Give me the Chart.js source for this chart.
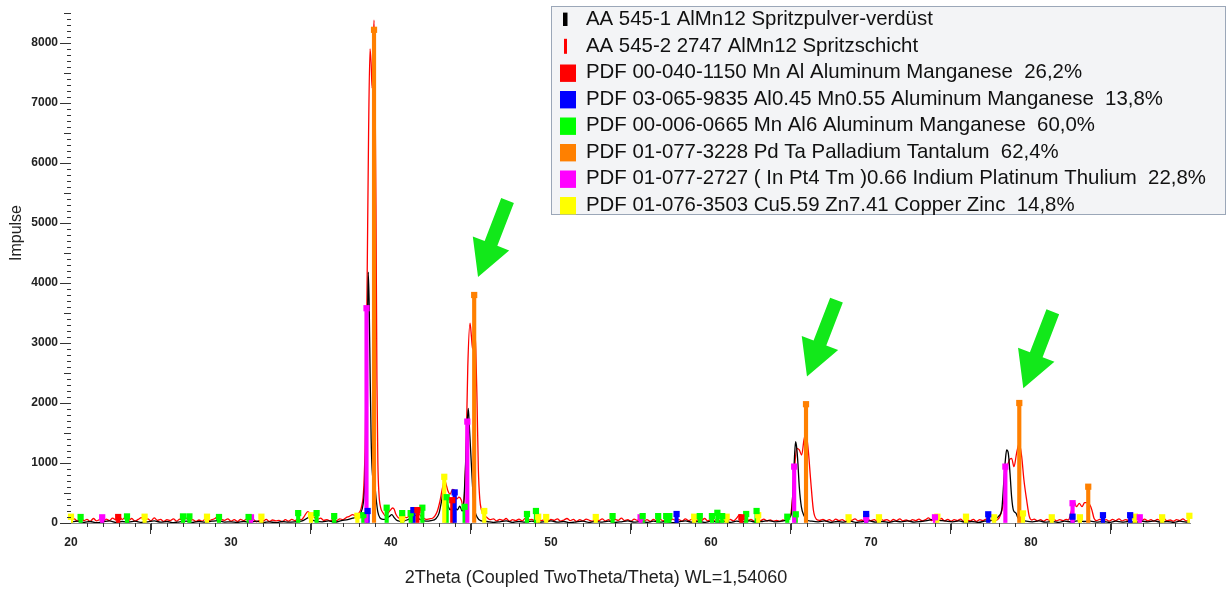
<!DOCTYPE html>
<html>
<head>
<meta charset="utf-8">
<script src="https://cdn.jsdelivr.net/npm/chart.js@4.4.1/dist/chart.umd.min.js"></script>
<style>
html,body{margin:0;padding:0;background:#fff;}
#wrap{width:1228px;height:595px;position:relative;}
</style>
</head>
<body>
<div id="wrap"><canvas id="c" width="1228" height="595"></canvas></div>
<script>
// ---------- legend / series names ----------
const scanNames = ['AA 545-1 AlMn12 Spritzpulver-verdüst', 'AA 545-2 2747 AlMn12 Spritzschicht'];
const scanColors = ['#000000', '#ff0000'];
const phaseNames = [
  'PDF 00-040-1150 Mn Al Aluminum Manganese  26,2%',
  'PDF 03-065-9835 Al0.45 Mn0.55 Aluminum Manganese  13,8%',
  'PDF 00-006-0665 Mn Al6 Aluminum Manganese  60,0%',
  'PDF 01-077-3228 Pd Ta Palladium Tantalum  62,4%',
  'PDF 01-077-2727 ( In Pt4 Tm )0.66 Indium Platinum Thulium  22,8%',
  'PDF 01-076-3503 Cu5.59 Zn7.41 Copper Zinc  14,8%'
];
const phaseColors = ['#ff0000', '#0000ff', '#00ff00', '#ff8000', '#ff00ff', '#ffff00'];

// ---------- axis ----------
const xTitle = '2Theta (Coupled TwoTheta/Theta) WL=1,54060';
const yTitle = 'Impulse';
const xMin = 20, xMax = 89.94;
const yMin = 0, yMax = 8550;
const xTickValues = [20, 30, 40, 50, 60, 70, 80];
const yTickValues = [0, 1000, 2000, 3000, 4000, 5000, 6000, 7000, 8000];

// ---------- scan 1 (black): [2theta, counts] ----------
const scan1 = [
[20.0,15],[20.4,30],[20.8,10],[21.2,25],[21.6,5],[22.0,20],[22.4,35],[22.8,10],[23.2,25],[23.6,15],
[24.0,30],[24.4,10],[24.8,20],[25.2,35],[25.6,15],[26.0,25],[26.4,5],[26.8,20],[27.2,30],[27.6,10],
[28.0,25],[28.4,15],[28.8,30],[29.2,40],[29.6,15],[30.0,20],[30.4,10],[30.8,25],[31.2,15],[31.6,30],
[32.0,10],[32.4,20],[32.8,5],[33.2,25],[33.6,15],[34.0,20],[34.4,30],[34.7,70],[34.85,95],[35.0,60],
[35.3,30],[35.7,20],[36.1,35],[36.5,15],[36.9,40],[37.3,55],[37.6,80],[37.9,110],[38.1,160],[38.25,300],
[38.35,600],[38.45,1600],[38.52,3000],[38.58,4180],[38.64,3600],[38.7,2400],[38.76,1400],[38.82,900],[38.9,700],[39.0,600],
[39.08,380],[39.18,180],[39.3,90],[39.5,60],[39.7,70],[39.9,110],[40.05,140],[40.2,90],[40.4,40],[40.7,30],
[41.0,50],[41.3,90],[41.5,130],[41.7,80],[41.9,50],[42.2,30],[42.5,40],[42.8,70],[43.0,160],[43.15,350],
[43.27,500],[43.4,420],[43.55,300],[43.7,220],[43.85,270],[44.0,250],[44.15,220],[44.3,280],[44.45,200],[44.55,350],
[44.65,900],[44.75,1600],[44.83,1910],[44.9,1600],[44.97,1250],[45.04,900],[45.14,440],[45.25,200],[45.4,90],[45.6,40],
[46.0,25],[46.4,10],[46.8,20],[47.2,35],[47.6,10],[48.0,25],[48.4,15],[48.8,30],[49.2,10],[49.6,20],
[50.0,35],[50.4,15],[50.8,25],[51.2,5],[51.6,20],[52.0,30],[52.4,10],[52.8,25],[53.2,15],[53.6,30],
[54.0,10],[54.4,20],[54.8,35],[55.2,15],[55.6,25],[56.0,10],[56.4,30],[56.8,15],[57.2,25],[57.6,5],
[58.0,20],[58.4,35],[58.8,15],[59.2,25],[59.6,10],[60.0,30],[60.4,15],[60.8,25],[61.2,10],[61.6,30],
[62.0,20],[62.4,35],[62.8,15],[63.2,25],[63.6,40],[64.0,20],[64.4,30],[64.7,50],[64.9,90],[65.04,165],
[65.15,717],[65.22,1100],[65.29,1355],[65.36,1250],[65.42,1050],[65.52,600],[65.65,270],[65.8,130],[66.0,50],[66.3,30],
[66.7,20],[67.1,35],[67.5,10],[67.9,25],[68.3,15],[68.7,30],[69.1,10],[69.5,25],[69.9,35],[70.3,15],
[70.7,25],[71.1,10],[71.5,30],[71.9,20],[72.3,35],[72.7,15],[73.1,25],[73.5,40],[73.9,60],[74.3,45],
[74.7,30],[75.1,20],[75.5,35],[75.9,15],[76.3,25],[76.7,10],[77.1,30],[77.5,40],[77.8,70],[78.0,120],
[78.17,215],[78.31,717],[78.4,1050],[78.48,1217],[78.58,1167],[78.69,828],[78.79,438],[78.9,215],[79.06,165],[79.2,80],
[79.4,50],[79.7,30],[80.1,20],[80.5,35],[80.9,15],[81.3,25],[81.7,10],[82.1,30],[82.5,20],[82.9,35],
[83.3,25],[83.7,30],[84.1,15],[84.5,25],[84.9,10],[85.3,30],[85.7,15],[86.1,25],[86.5,10],[86.9,30],
[87.3,20],[87.7,35],[88.1,15],[88.5,25],[88.9,10],[89.3,30],[89.7,15],[89.94,20]
];

// ---------- scan 2 (red): [2theta, counts] ----------
const scan2 = [
[20.0,45],[20.2,70],[20.4,30],[20.6,85],[20.8,40],[21.0,60],[21.2,25],[21.4,75],[21.6,35],[21.8,55],
[22.0,20],[22.2,65],[22.4,40],[22.6,80],[22.8,50],[23.0,110],[23.2,60],[23.4,95],[23.6,45],[23.8,75],
[24.0,30],[24.2,60],[24.4,90],[24.6,50],[24.8,70],[25.0,35],[25.2,85],[25.4,45],[25.6,60],[25.8,25],
[26.0,55],[26.2,40],[26.4,70],[26.6,30],[26.8,65],[27.0,45],[27.2,80],[27.4,35],[27.6,55],[27.8,25],
[28.0,50],[28.2,30],[28.4,65],[28.6,40],[28.8,55],[29.0,75],[29.2,110],[29.4,60],[29.6,45],[29.8,70],
[30.0,30],[30.2,55],[30.4,25],[30.6,60],[30.8,40],[31.0,70],[31.2,35],[31.4,55],[31.6,20],[31.8,45],
[32.0,30],[32.2,60],[32.4,25],[32.6,50],[32.8,35],[33.0,45],[33.2,20],[33.4,55],[33.6,30],[33.8,60],
[34.0,40],[34.2,70],[34.4,55],[34.6,120],[34.8,190],[35.0,140],[35.2,95],[35.4,60],[35.6,80],[35.8,45],
[36.0,55],[36.2,35],[36.4,60],[36.6,40],[36.8,70],[37.0,55],[37.2,90],[37.4,110],[37.6,140],[37.8,125],
[38.0,170],[38.15,260],[38.3,600],[38.4,1500],[38.5,3800],[38.6,6500],[38.69,7900],[38.76,7650],[38.82,7250],[38.88,7800],
[38.94,8380],[39.0,7400],[39.06,5300],[39.12,2400],[39.18,1000],[39.25,480],[39.35,260],[39.5,170],[39.65,120],[39.8,160],
[39.95,210],[40.1,250],[40.2,230],[40.3,150],[40.45,90],[40.6,70],[40.8,100],[41.0,90],[41.2,140],[41.4,200],
[41.55,230],[41.7,180],[41.85,120],[42.0,90],[42.2,60],[42.4,70],[42.6,80],[42.75,120],[42.9,200],[43.05,350],
[43.2,560],[43.35,720],[43.45,640],[43.55,540],[43.7,480],[43.85,560],[43.95,550],[44.1,400],[44.25,430],[44.4,380],
[44.5,280],[44.6,500],[44.7,1300],[44.8,2600],[44.94,3330],[45.03,3100],[45.1,2900],[45.2,3250],[45.3,2900],[45.38,2000],
[45.46,900],[45.55,400],[45.65,220],[45.8,140],[46.0,90],[46.2,55],[46.4,70],[46.6,35],[46.8,60],[47.0,45],
[47.2,75],[47.4,30],[47.6,55],[47.8,40],[48.0,65],[48.2,35],[48.4,80],[48.6,50],[48.8,60],[49.0,35],
[49.2,70],[49.4,40],[49.6,55],[49.8,25],[50.0,60],[50.2,45],[50.4,70],[50.6,30],[50.8,50],[51.0,75],
[51.2,40],[51.4,60],[51.6,25],[51.8,55],[52.0,35],[52.2,65],[52.4,45],[52.6,30],[52.8,60],[53.0,40],
[53.2,70],[53.4,35],[53.6,55],[53.8,25],[54.0,60],[54.2,45],[54.4,80],[54.6,40],[54.8,55],[55.0,30],
[55.2,65],[55.4,45],[55.6,75],[55.8,35],[56.0,55],[56.2,25],[56.4,60],[56.6,40],[56.8,70],[57.0,35],
[57.2,50],[57.4,30],[57.6,65],[57.8,45],[58.0,55],[58.2,30],[58.4,70],[58.6,40],[58.8,60],[59.0,25],
[59.2,55],[59.4,40],[59.6,75],[59.8,35],[60.0,60],[60.2,45],[60.4,65],[60.6,30],[60.8,55],[61.0,40],
[61.2,60],[61.4,35],[61.6,80],[61.8,140],[61.95,120],[62.1,70],[62.3,45],[62.5,60],[62.7,30],[62.9,55],
[63.1,40],[63.3,65],[63.5,35],[63.7,50],[63.9,30],[64.1,45],[64.3,25],[64.5,50],[64.7,40],[64.85,70],
[65.0,165],[65.1,420],[65.15,605],[65.25,1000],[65.36,1245],[65.52,1217],[65.67,1133],[65.81,1383],[65.94,1483],[66.08,1217],
[66.23,717],[66.4,217],[66.6,60],[66.8,45],[67.0,60],[67.2,35],[67.4,55],[67.6,30],[67.8,65],[68.0,40],
[68.2,55],[68.4,25],[68.6,60],[68.8,45],[69.0,70],[69.2,35],[69.4,50],[69.6,30],[69.8,60],[70.0,40],
[70.2,55],[70.4,30],[70.6,65],[70.8,45],[71.0,55],[71.2,25],[71.4,60],[71.6,40],[71.8,70],[72.0,35],
[72.2,50],[72.4,30],[72.6,55],[72.8,40],[73.0,65],[73.2,35],[73.4,55],[73.6,85],[73.8,40],[74.0,95],
[74.2,50],[74.4,75],[74.6,35],[74.8,60],[75.0,30],[75.2,55],[75.4,40],[75.6,65],[75.8,30],[76.0,50],
[76.2,35],[76.4,60],[76.6,25],[76.8,55],[77.0,40],[77.2,65],[77.4,35],[77.6,60],[77.8,45],[78.0,80],
[78.15,180],[78.31,383],[78.48,883],[78.65,1050],[78.79,1078],[78.94,938],[79.1,1162],[79.27,1328],[79.42,1105],[79.56,717],
[79.73,383],[79.9,105],[80.05,50],[80.2,65],[80.4,35],[80.6,55],[80.8,30],[81.0,60],[81.2,40],[81.4,65],
[81.6,35],[81.8,55],[82.0,40],[82.2,60],[82.33,50],[82.54,215],[82.69,355],[82.85,272],[83.02,328],[83.19,272],
[83.35,338],[83.52,338],[83.69,300],[83.81,215],[83.94,80],[84.1,40],[84.3,60],[84.5,35],[84.7,55],[84.9,30],
[85.1,60],[85.3,40],[85.5,70],[85.7,35],[85.9,55],[86.1,45],[86.3,65],[86.5,90],[86.7,50],[86.9,40],
[87.1,65],[87.3,35],[87.5,55],[87.7,30],[87.9,60],[88.1,40],[88.3,75],[88.5,35],[88.7,50],[88.9,30],
[89.1,55],[89.3,40],[89.5,70],[89.7,35],[89.94,60]
];

// ---------- reference patterns (sticks): [2theta, intensity] ----------
const pdfMnAl = [[22.95,100],[41.65,215],[43.83,380],[61.9,95]];
const pdfAlMn = [[38.54,200],[41.4,215],[43.98,510],[57.85,150],[69.7,150],[77.33,145],[82.6,105],[84.5,130],[86.2,130]];
const pdfMnAl6 = [[20.6,100],[23.5,110],[27.0,110],[27.4,110],[29.25,100],[31.1,100],[34.2,165],[35.35,165],[36.45,115],
  [38.27,130],[39.73,255],[40.7,165],[41.23,165],[41.96,255],[43.48,430],[44.6,270],[48.5,150],[49.06,200],[53.85,115],
  [55.73,115],[56.7,115],[57.2,115],[57.4,115],[59.3,115],[60.06,115],[60.4,170],[60.7,115],[62.2,150],[62.85,200],[64.77,105],[65.3,145]];
const pdfPdTa = [[38.94,8220],[45.2,3800],[65.94,1980],[79.27,2000],[83.58,605]];
const pdfInPt4Tm = [[21.95,95],[31.25,95],[38.47,3580],[44.77,1690],[55.6,95],[65.2,940],[69.7,95],[74.0,95],[78.4,940],[82.6,330],[86.8,95]];
const pdfCuZn = [[20.0,105],[24.6,105],[28.5,105],[31.9,105],[35.0,130],[37.9,120],[40.7,90],[43.33,770],[45.83,200],[49.2,105],
  [49.7,100],[52.8,100],[58.95,105],[60.98,105],[62.95,130],[68.6,95],[70.5,95],[74.15,105],[75.94,105],[77.7,95],[79.5,160],
  [81.3,95],[83.06,95],[86.5,105],[88.2,95],[89.9,120]];
const phaseSticks = [pdfMnAl, pdfAlMn, pdfMnAl6, pdfPdTa, pdfInPt4Tm, pdfCuZn];

// ---------- annotation arrows: tip positions [2theta, counts] ----------
const arrowTips = [[45.44,4100],[66.0,2440],[79.52,2245]];

// ---------- build datasets ----------
const toXY = arr => arr.map(([x, y]) => ({x, y}));
const datasets = [];
datasets.push({type:'line', label: scanNames[1], data: toXY(scan2), borderColor: scanColors[1], borderWidth: 1.3,
  pointRadius: 0, cubicInterpolationMode: 'monotone', order: 20});
datasets.push({type:'line', label: scanNames[0], data: toXY(scan1), borderColor: scanColors[0], borderWidth: 1.3,
  pointRadius: 0, cubicInterpolationMode: 'monotone', order: 19});
phaseSticks.forEach((arr, i) => {
  datasets.push({type:'bar', label: phaseNames[i], data: toXY(arr), backgroundColor: phaseColors[i],
    barThickness: 3.5, grouped: false, order: 10 - i});
});
phaseSticks.forEach((arr, i) => {
  datasets.push({type:'line', label: phaseNames[i] + ' ', data: toXY(arr), showLine: false, pointStyle: 'rect',
    pointRadius: 4.4, pointBackgroundColor: phaseColors[i], pointBorderWidth: 0, order: 2, clip: 8});
});

const FONT = '"Liberation Sans", Arial, sans-serif';

const minorTicks = {
  id: 'minorTicks',
  afterDraw(chart) {
    const {ctx, chartArea: a, scales: {x, y}} = chart;
    ctx.save();
    ctx.strokeStyle = '#333';
    ctx.lineWidth = 1;
    ctx.beginPath();
    for (let v = Math.ceil(x.min); v <= x.max; v++) {
      if (v % 10 === 0) continue;
      const px = Math.round(x.getPixelForValue(v)) + 0.5;
      const len = v % 5 === 0 ? 7 : 4;
      ctx.moveTo(px, a.bottom); ctx.lineTo(px, a.bottom + len);
    }
    for (let v = 100; v <= y.max; v += 100) {
      if (v % 1000 === 0) continue;
      const py = Math.round(y.getPixelForValue(v)) + 0.5;
      const len = v % 500 === 0 ? 7 : 4;
      ctx.moveTo(a.left - len, py); ctx.lineTo(a.left, py);
    }
    ctx.stroke();
    ctx.restore();
  }
};

const arrowsPlugin = {
  id: 'arrows',
  afterDatasetsDraw(chart) {
    const {ctx, scales: {x, y}} = chart;
    const d = [-0.36, 0.933], n = [0.933, 0.36];
    const L = 82, H = 36, HW = 19.5, SW = 6.8;
    ctx.save();
    ctx.fillStyle = '#12e81a';
    arrowTips.forEach(([tx, ty]) => {
      const px = x.getPixelForValue(tx), py = y.getPixelForValue(ty);
      const bx = px - d[0] * H, by = py - d[1] * H;
      const cx = px - d[0] * L, cy = py - d[1] * L;
      ctx.beginPath();
      ctx.moveTo(px, py);
      ctx.lineTo(bx + n[0] * HW, by + n[1] * HW);
      ctx.lineTo(bx + n[0] * SW, by + n[1] * SW);
      ctx.lineTo(cx + n[0] * SW, cy + n[1] * SW);
      ctx.lineTo(cx - n[0] * SW, cy - n[1] * SW);
      ctx.lineTo(bx - n[0] * SW, by - n[1] * SW);
      ctx.lineTo(bx - n[0] * HW, by - n[1] * HW);
      ctx.closePath();
      ctx.fill();
    });
    ctx.restore();
  }
};

const titlesAndLegend = {
  id: 'titlesAndLegend',
  afterDraw(chart) {
    const ctx = chart.ctx;
    ctx.save();
    // axis titles
    ctx.fillStyle = '#222';
    ctx.textAlign = 'center';
    ctx.textBaseline = 'middle';
    ctx.font = '18px ' + FONT;
    ctx.fillText(xTitle, 596, 578);
    ctx.save();
    ctx.font = '16px ' + FONT;
    ctx.translate(17, 233);
    ctx.rotate(-Math.PI / 2);
    ctx.fillText(yTitle, 0, 0);
    ctx.restore();
    // legend box
    const bx = 551.5, by = 6.5, bw = 674, bh = 208;
    ctx.fillStyle = '#f3f4f6';
    ctx.fillRect(bx, by, bw, bh);
    ctx.strokeStyle = '#9ba7b8';
    ctx.lineWidth = 1;
    ctx.strokeRect(bx, by, bw, bh);
    const labels = scanNames.concat(phaseNames);
    const colors = scanColors.concat(phaseColors);
    ctx.font = '20.4px ' + FONT;
    ctx.textAlign = 'left';
    ctx.textBaseline = 'alphabetic';
    labels.forEach((lab, i) => {
      const base = 25.3 + i * 26.5;
      ctx.fillStyle = colors[i];
      if (i === 0) ctx.fillRect(563, base - 12.7, 4.5, 13.4);
      else if (i === 1) ctx.fillRect(564, base - 13, 3, 15);
      else ctx.fillRect(560, base - 13.8, 16, 17.4);
      ctx.fillStyle = '#111';
      ctx.fillText(lab, 586, base);
    });
    ctx.restore();
  }
};

new Chart(document.getElementById('c'), {
  type: 'line',
  data: { datasets },
  options: {
    responsive: false,
    animation: false,
    events: [],
    layout: { padding: { left: 0, top: 10, right: 38, bottom: 0 } },
    plugins: { legend: { display: false }, tooltip: { enabled: false } },
    scales: {
      x: {
        type: 'linear', min: xMin, max: xMax, offset: false,
        afterFit(s) { s.height = 72; },
        afterBuildTicks(s) { s.ticks = xTickValues.map(value => ({value})); },
        ticks: { padding: 1, maxRotation: 0, autoSkip: false, color: '#222',
          callback: v => String(v),
          font: { family: FONT, size: 12, weight: 'bold' } },
        grid: { display: true, drawOnChartArea: false, drawTicks: true, tickLength: 11, tickColor: '#333', color: '#333' },
        border: { display: true, color: '#8a8a8a', width: 1 }
      },
      y: {
        type: 'linear', min: yMin, max: yMax,
        afterFit(s) { s.width = 71; },
        afterBuildTicks(s) { s.ticks = yTickValues.map(value => ({value})); },
        ticks: { padding: 2, autoSkip: false, color: '#222',
          callback: v => String(v),
          font: { family: FONT, size: 12, weight: 'bold' } },
        grid: { display: true, drawOnChartArea: false, drawTicks: true, tickLength: 11, tickColor: '#333', color: '#333' },
        border: { display: false }
      }
    }
  },
  plugins: [minorTicks, arrowsPlugin, titlesAndLegend]
});
</script>
</body>
</html>
